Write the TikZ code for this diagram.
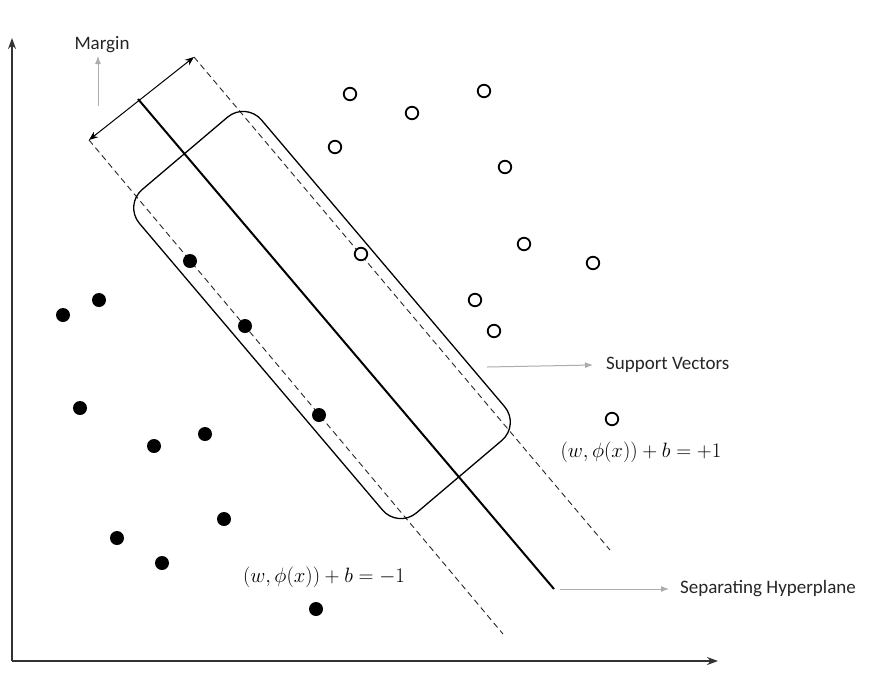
\documentclass[tikz,border=0pt]{standalone}
\usepackage[no-math]{fontspec}
\setmainfont{Carlito}
\usetikzlibrary{arrows.meta}
\begin{document}
\begin{tikzpicture}[x=1pt,y=-1pt,
  fulldot/.style={circle,fill=black,inner sep=0pt,minimum size=14pt},
  opendot/.style={circle,draw=black,line width=1.8pt,fill=white,inner sep=0pt,minimum size=12.5pt},
  lbl/.style={font=\fontsize{19}{22}\selectfont,inner sep=0pt,text=black!85},
  eq/.style={font=\fontsize{20.5}{24}\selectfont,inner sep=0pt},
  ptr/.style={draw=gray!65,line width=1pt,-{Latex[length=8pt,width=6pt]}},
  axis/.style={draw=black!80,line width=1.6pt,-{Stealth[length=11pt,width=8pt]}},
  margin line/.style={draw=black!85,dashed,dash pattern=on 6pt off 4pt,line width=0.9pt},
  hyper/.style={draw=black,line width=2pt},
  svbox/.style={draw=black,line width=1.3pt,rounded corners=24pt,minimum width=424pt,minimum height=160pt,rotate=-49.7,inner sep=0pt}
]
\useasboundingbox (0,0) rectangle (875,675);
\fill[white] (0,0) rectangle (875,675);
% axes
\coordinate (O) at (12,661);
\coordinate (ytop) at (12,38);
\coordinate (xend) at (718,661);
\draw[axis] (O) -- (ytop);
\draw[axis] (O) -- (xend);
% hyperplane and margins
\coordinate (h1) at (138,99);
\coordinate (h2) at (554,589);
\coordinate (l1) at (89,140);
\coordinate (l2) at (503,634);
\coordinate (u1) at (194,57);
\coordinate (u2) at (610,550);
\draw[hyper] (h1) -- (h2);
\draw[margin line] (l1) -- (l2);
\draw[margin line] (u1) -- (u2);
\draw[black,line width=1pt,{Stealth[length=9pt,width=7pt]}-{Stealth[length=9pt,width=7pt]}] (l1) -- (u1);
% support vector box
\node[svbox] (box) at (322,315) {};
% labels
\node[lbl] (margin) at (102,45) {Margin};
\coordinate (mfoot) at (98,106);
\coordinate (mtip) at (98,56);
\draw[ptr] (mfoot) -- (mtip);
\node[lbl,anchor=west] (sv) at (606,365) {Support Vectors};
\coordinate (svs) at (487,367);
\coordinate (svt) at (593,365);
\draw[ptr] (svs) -- (svt);
\node[lbl,anchor=west] (sh) at (680,589) {Separating Hyperplane};
\coordinate (shs) at (560,589);
\coordinate (sht) at (669,589);
\draw[ptr] (shs) -- (sht);
\node[eq] (eqp) at (641,452) {$\big(w,\phi(x)\big)+b=+1$};
\node[eq] (eqn) at (324,577) {$\big(w,\phi(x)\big)+b=-1$};
% filled points
\node[fulldot] (p1) at (190,261) {};
\node[fulldot] (p2) at (245,326) {};
\node[fulldot] (p3) at (319,415) {};
\node[fulldot] (p4) at (63,315) {};
\node[fulldot] (p5) at (99,300) {};
\node[fulldot] (p6) at (80,408) {};
\node[fulldot] (p7) at (154,446) {};
\node[fulldot] (p8) at (205,434) {};
\node[fulldot] (p9) at (224,519) {};
\node[fulldot] (p10) at (117,538) {};
\node[fulldot] (p11) at (162,563) {};
\node[fulldot] (p12) at (316,609) {};
% open points
\node[opendot] (n1) at (350,94) {};
\node[opendot] (n2) at (412,113) {};
\node[opendot] (n3) at (484,91) {};
\node[opendot] (n4) at (335,147) {};
\node[opendot] (n5) at (505,167) {};
\node[opendot] (n6) at (524,244) {};
\node[opendot] (n7) at (593,263) {};
\node[opendot] (n8) at (361,254) {};
\node[opendot] (n9) at (475,300) {};
\node[opendot] (n10) at (494,331) {};
\node[opendot] (n11) at (612,419) {};
\end{tikzpicture}
\end{document}
